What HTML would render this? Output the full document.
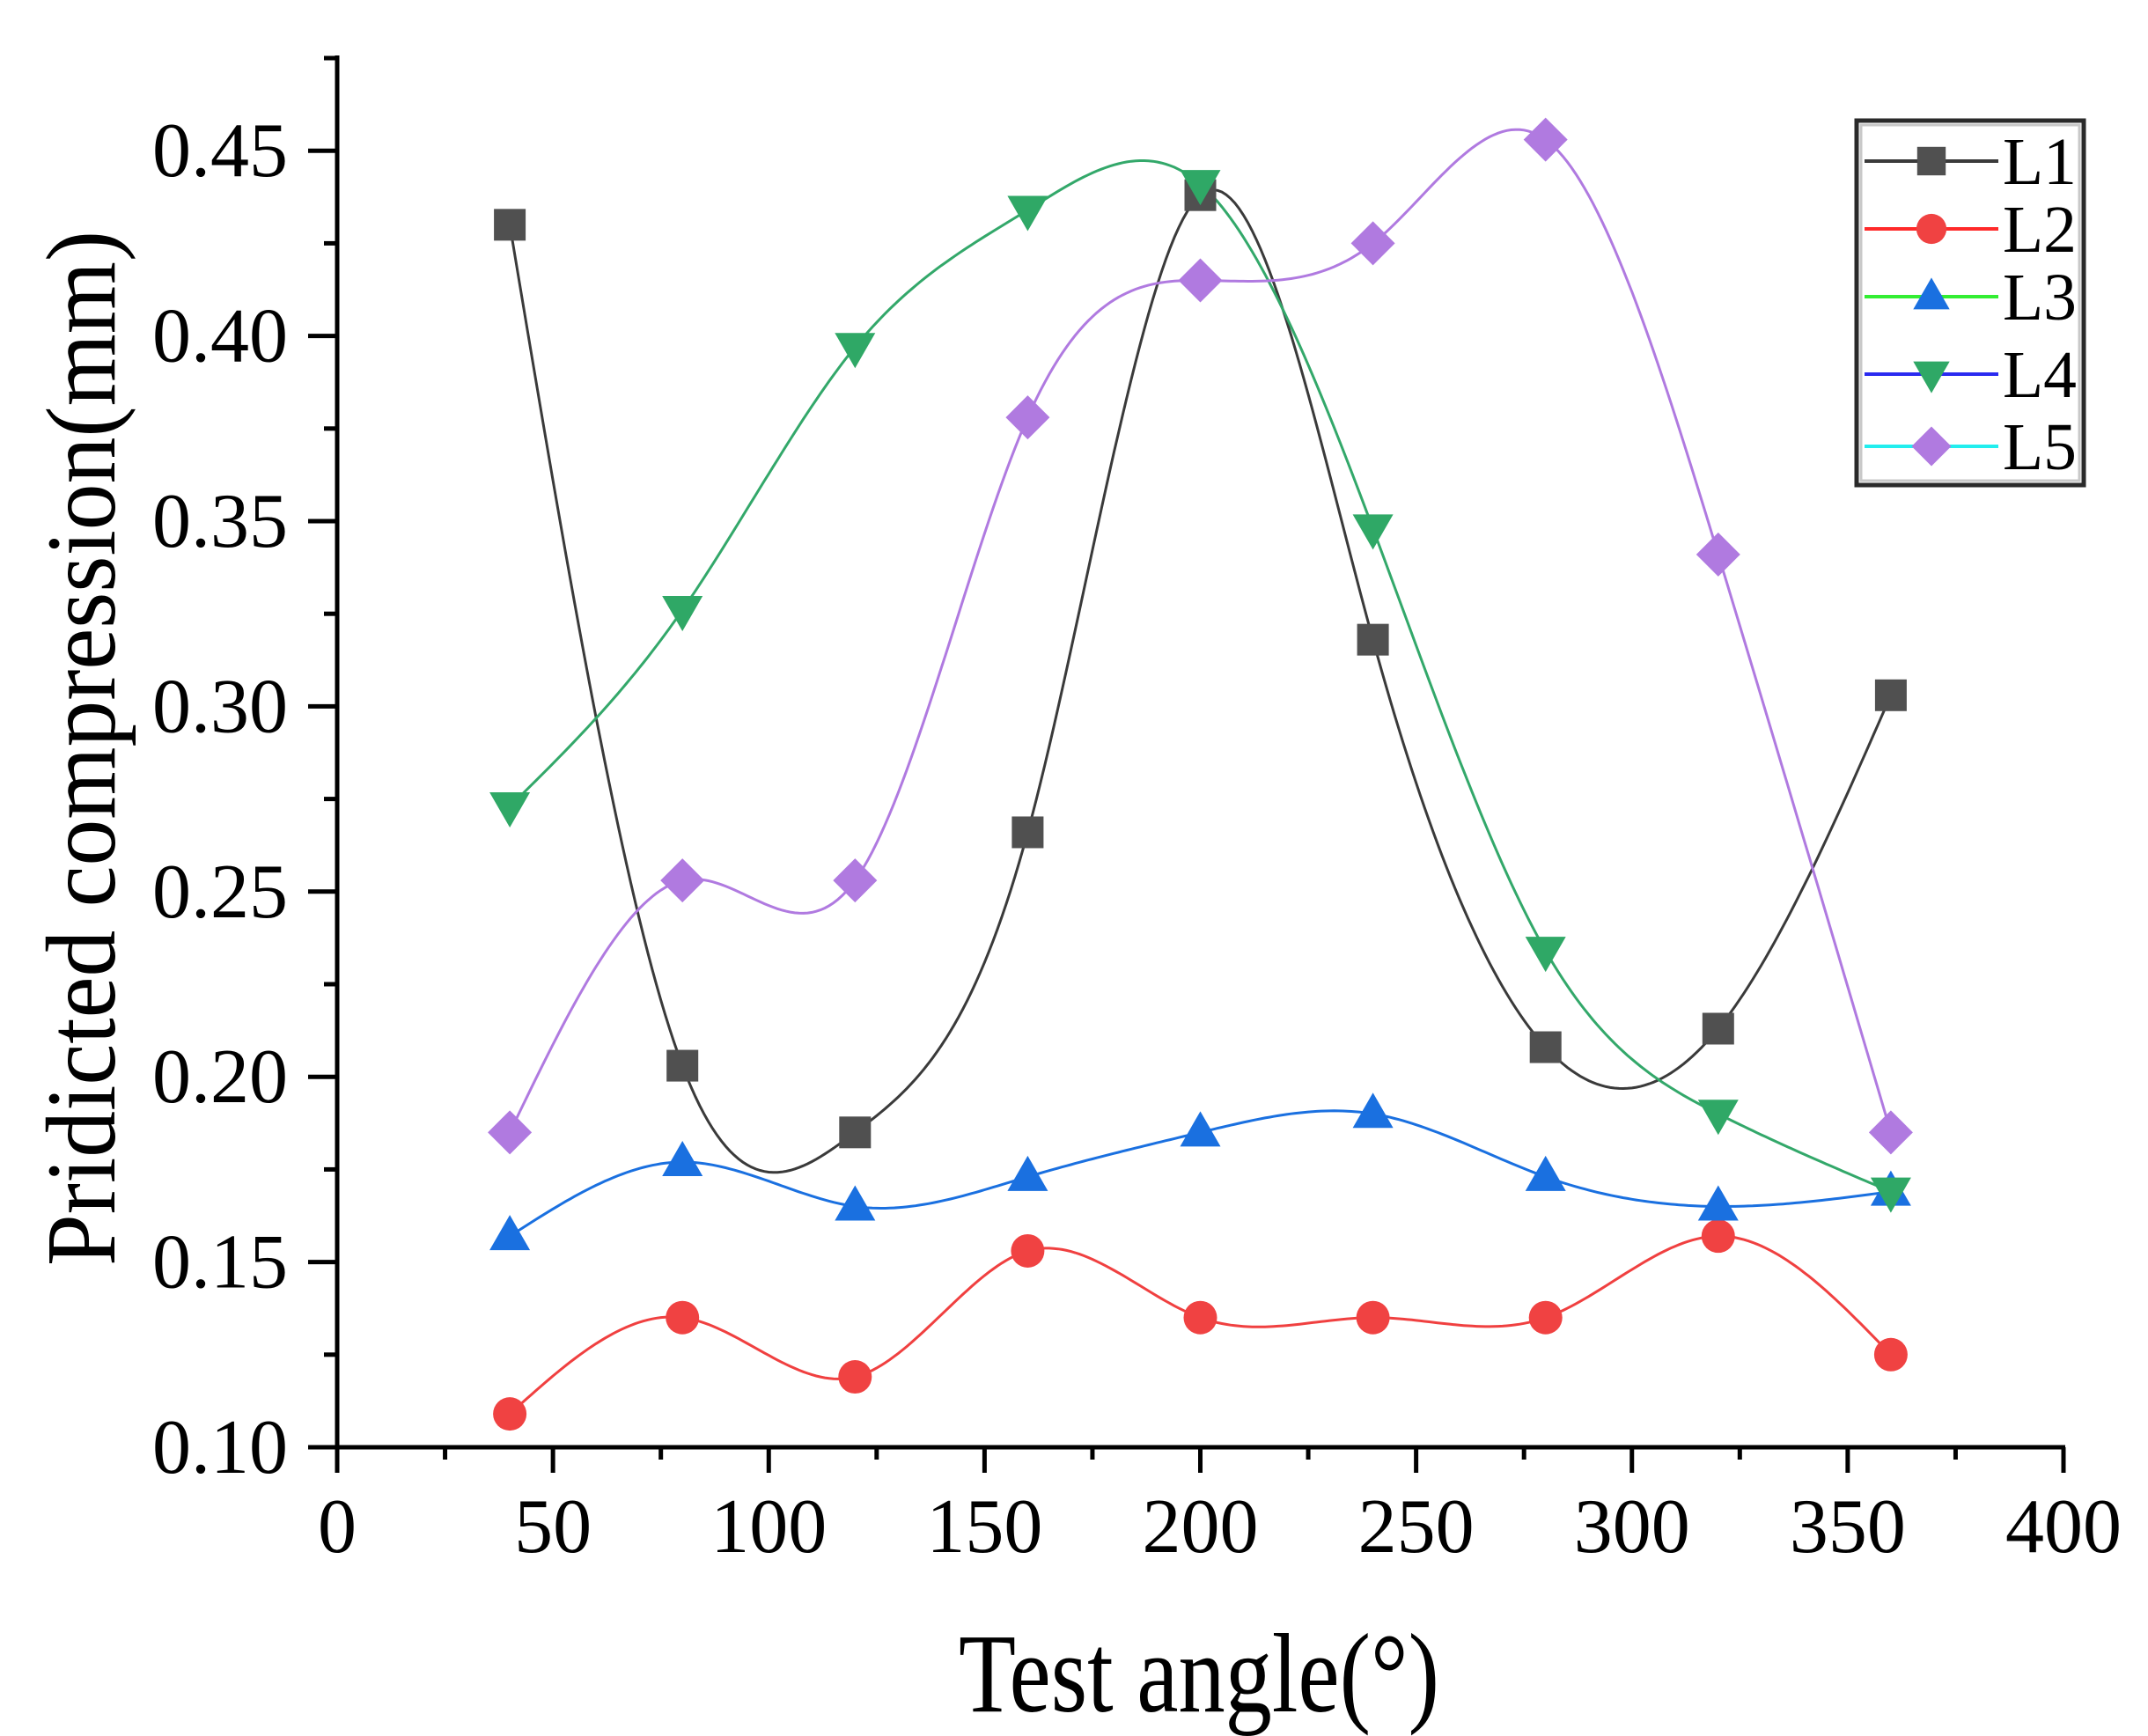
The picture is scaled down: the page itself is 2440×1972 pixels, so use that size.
<!DOCTYPE html>
<html><head><meta charset="utf-8"><style>
html,body{margin:0;padding:0;background:#fff;}
svg{display:block;}
text{font-family:"Liberation Serif","DejaVu Serif",serif;fill:#000;}
</style></head><body>
<svg id="s" width="2440" height="1972" viewBox="0 0 2440 1972" xmlns="http://www.w3.org/2000/svg">
<g id="ticks" stroke="#000" stroke-width="5"></g>
<g id="plot"></g>
<line x1="383" y1="63" x2="383" y2="1646" stroke="#000" stroke-width="5"/>
<line x1="381" y1="1644" x2="2346" y2="1644" stroke="#000" stroke-width="5"/>
<g id="labels" font-size="88"></g>
<text x="1089" y="1944" font-size="128" textLength="546" lengthAdjust="spacingAndGlyphs">Test angle(°)</text>
<text transform="translate(130,1438) rotate(-90)" font-size="112" textLength="1176" lengthAdjust="spacingAndGlyphs">Pridicted compression(mm)</text>
<g id="legend"></g>
</svg>
<script>
var NS="http://www.w3.org/2000/svg";
function el(p,t,a){var e=document.createElementNS(NS,t);for(var k in a)e.setAttribute(k,a[k]);p.appendChild(e);return e;}
function X(v){return 383+v*4.9025;}
function Y(v){return 1644-(v-0.10)*4208;}
var tk=document.getElementById('ticks'),lb=document.getElementById('labels');
for(var i=0;i<=16;i++){var v=i*25,x=X(v);var maj=i%2==0;
 el(tk,'line',{x1:x,y1:1644,x2:x,y2:maj?1673:1658});
 if(maj){var t=el(lb,'text',{x:x,y:1763,'text-anchor':'middle'});t.textContent=String(v);}}
for(var i=0;i<=15;i++){var v=0.10+i*0.025,y=Y(v);if(y<60)continue;var maj=i%2==0;
 el(tk,'line',{x1:383,y1:y,x2:maj?350:368,y2:y});
 if(maj){var t=el(lb,'text',{x:327,y:y+29,'text-anchor':'end'});t.textContent=v.toFixed(2);}}
var xs=[40,80,120,160,200,240,280,320,360];
var S=[
 {d:[0.43,0.203,0.185,0.266,0.438,0.318,0.208,0.213,0.303],lc:'#3a3a3a',mc:'#505050',m:'sq',leg:'#3a3a3a'},
 {d:[0.109,0.135,0.119,0.153,0.135,0.135,0.135,0.157,0.125],lc:'#f04040',mc:'#f04242',m:'ci',leg:'#ff2a2a'},
 {d:[0.157,0.177,0.165,0.173,0.185,0.19,0.173,0.165,0.169],lc:'#1a70e0',mc:'#1a70e0',m:'up',leg:'#33ee33'},
 {d:[0.273,0.326,0.397,0.434,0.441,0.348,0.234,0.19,0.169],lc:'#33a86a',mc:'#2fa866',m:'dn',leg:'#2a2af0'},
 {d:[0.185,0.253,0.253,0.378,0.415,0.425,0.453,0.341,0.185],lc:'#b07ae0',mc:'#b07ae0',m:'di',leg:'#22eeee'}];
function spline(x,y){var n=x.length,h=[],a=[],l=[1],mu=[0],z=[0],c=new Array(n).fill(0),b=[],d=[];
 for(var i=0;i<n-1;i++)h[i]=x[i+1]-x[i];
 for(var i=1;i<n-1;i++)a[i]=3/h[i]*(y[i+1]-y[i])-3/h[i-1]*(y[i]-y[i-1]);
 for(var i=1;i<n-1;i++){l[i]=2*(x[i+1]-x[i-1])-h[i-1]*mu[i-1];mu[i]=h[i]/l[i];z[i]=(a[i]-h[i-1]*z[i-1])/l[i];}
 for(var j=n-2;j>=0;j--){c[j]=z[j]-mu[j]*c[j+1];b[j]=(y[j+1]-y[j])/h[j]-h[j]*(c[j+1]+2*c[j])/3;d[j]=(c[j+1]-c[j])/(3*h[j]);}
 var pts=[];for(var j=0;j<n-1;j++)for(var s=0;s<40;s++){var t=s/40*h[j];pts.push([x[j]+t,y[j]+b[j]*t+c[j]*t*t+d[j]*t*t*t]);}
 pts.push([x[n-1],y[n-1]]);return pts;}
function marker(g,m,cx,cy,col,k){k=k||1;
 if(m=='sq')el(g,'rect',{x:cx-18*k,y:cy-18*k,width:36*k,height:36*k,fill:col});
 else if(m=='ci')el(g,'circle',{cx:cx,cy:cy,r:19*k,fill:col});
 else if(m=='up')el(g,'polygon',{points:(cx)+','+(cy-24*k)+' '+(cx+23*k)+','+(cy+16*k)+' '+(cx-23*k)+','+(cy+16*k),fill:col});
 else if(m=='dn')el(g,'polygon',{points:(cx)+','+(cy+24*k)+' '+(cx+23*k)+','+(cy-16*k)+' '+(cx-23*k)+','+(cy-16*k),fill:col});
 else el(g,'polygon',{points:cx+','+(cy-25*k)+' '+(cx+25*k)+','+cy+' '+cx+','+(cy+25*k)+' '+(cx-25*k)+','+cy,fill:col});}
var pl=document.getElementById('plot');
S.forEach(function(s){var p=spline(xs,s.d);
 el(pl,'polyline',{points:p.map(function(q){return X(q[0]).toFixed(1)+','+Y(q[1]).toFixed(1)}).join(' '),fill:'none',stroke:s.lc,'stroke-width':3});});
S.forEach(function(s){xs.forEach(function(x,i){marker(pl,s.m,X(x),Y(s.d[i]),s.mc);});});
var lg=document.getElementById('legend');
el(lg,'rect',{x:2109,y:137,width:258,height:414,fill:'#fff',stroke:'#2a2a2a','stroke-width':5});
el(lg,'rect',{x:2114,y:142,width:248,height:404,fill:'none',stroke:'#c8c8c8','stroke-width':3});
var ly=[183,260,337,425,507];
S.forEach(function(s,i){var y=ly[i];
 el(lg,'line',{x1:2118,y1:y,x2:2270,y2:y,stroke:s.leg,'stroke-width':4});
 marker(lg,s.m,2194,y,s.mc,0.9);
 var t=el(lg,'text',{x:2275,y:y+26,'font-size':76,textLength:84,lengthAdjust:'spacingAndGlyphs'});t.textContent='L'+(i+1);});
</script>
</body></html>
